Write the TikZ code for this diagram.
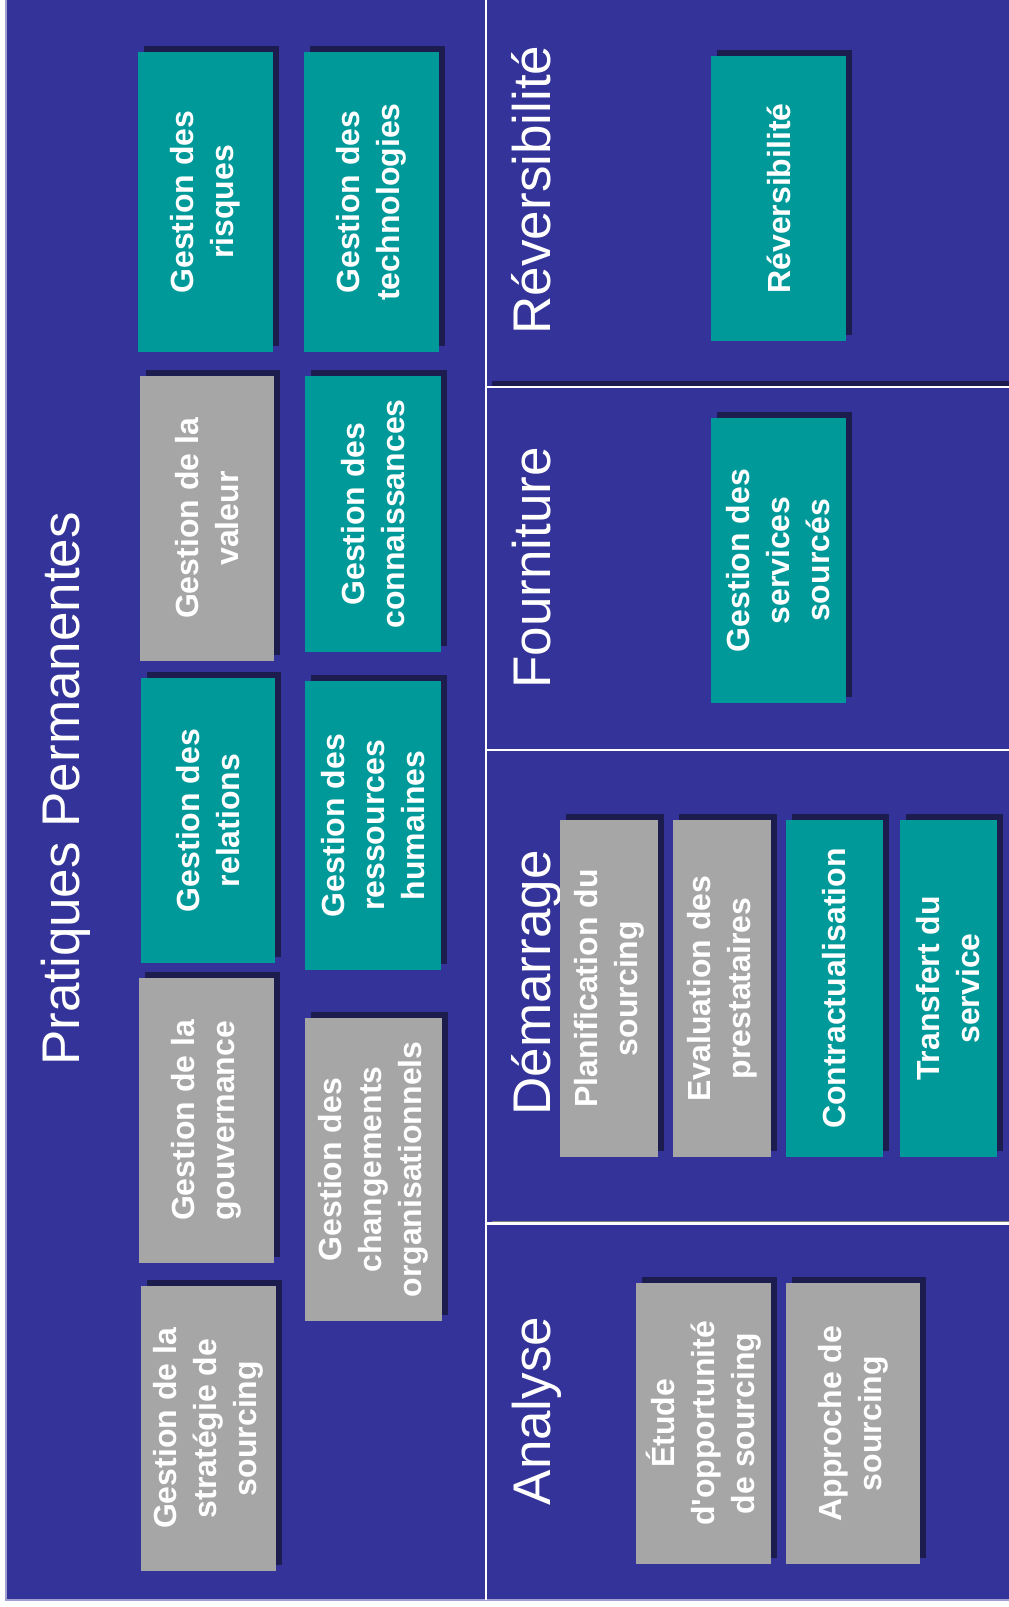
\documentclass[tikz,border=0pt]{standalone}
\usepackage{fontspec}
\setmainfont{Liberation Sans}[Ligatures=TeXOff]

\definecolor{panelblue}{RGB}{51,51,153}
\definecolor{boxteal}{RGB}{0,153,153}
\definecolor{boxgray}{RGB}{166,166,166}
\definecolor{shadowc}{RGB}{28,28,78}
\definecolor{edgec}{RGB}{160,160,210}

\tikzset{
  card/.style={draw=none, inner sep=0pt, text=white, align=center,
    font=\bfseries\fontsize{32}{40}\selectfont, rotate=90},
  tealcard/.style={card, fill=boxteal},
  graycard/.style={card, fill=boxgray},
  paneltitle/.style={text=white, inner sep=0pt,
    font=\fontsize{53}{60}\selectfont, rotate=90, anchor=base},
  divider/.style={draw=white, line width=2.5pt}
}

% #1 name, #2 left, #3 top, #4 right, #5 bottom (pixel-like units, y down),
% #6 style, #7 text; a dark shadow sits up and to the right of each card
\newcommand{\placecard}[7]{%
  \pgfmathsetmacro{\pcW}{#5-#3}%
  \pgfmathsetmacro{\pcH}{#4-#2}%
  \pgfmathsetmacro{\pcX}{(#2+#4)/2}%
  \pgfmathsetmacro{\pcY}{(#3+#5)/2}%
  \fill[shadowc] ({#2+6},{#3-6}) rectangle ({#4+6},{#5-6});
  \node[#6, minimum width=\pcW pt, minimum height=\pcH pt] (#1) at (\pcX,\pcY) {#7};
}

\begin{document}
\begin{tikzpicture}[x=1pt, y=-1pt]
  \useasboundingbox (0,0) rectangle (1009,1607);
  \fill[white] (0,0) rectangle (1009,1607);

  % blue field and its light edge
  \fill[panelblue] (6,-10) rectangle (1020,1600);
  \draw[edgec, line width=1.2pt] (6,-10) -- (6,1600) -- (1020,1600);

  % dividers between the phase panels
  \fill[shadowc] (492,381) rectangle (1020,385.5);
  \draw[divider] (486,-10) -- (486,1600);
  \draw[divider] (486,387) -- (1020,387);
  \draw[divider] (486,750) -- (1020,750);
  \draw[gray, line width=1pt] (492,1221) -- (1020,1221);
  \draw[divider] (486,1223.5) -- (1020,1223.5);

  % panel titles
  \node[paneltitle] (tpp)  at (79,789)   {Pratiques Permanentes};
  \node[paneltitle] (trev) at (550,190)  {Réversibilité};
  \node[paneltitle] (tfou) at (550,568)  {Fourniture};
  \node[paneltitle] (tdem) at (550,983)  {Démarrage};
  \node[paneltitle] (tana) at (550,1411) {Analyse};

  % permanent practices, first column
  \placecard{risques}{138}{52}{273}{352}{tealcard}{Gestion des\\risques}
  \placecard{valeur}{140}{376}{274}{661}{graycard}{Gestion de la\\valeur}
  \placecard{relations}{141}{678}{275}{963}{tealcard}{Gestion des\\relations}
  \placecard{gouvernance}{139}{978}{274}{1263}{graycard}{Gestion de la\\gouvernance}
  \placecard{strategie}{141}{1286}{276}{1571}{graycard}{Gestion de la\\stratégie de\\sourcing}

  % permanent practices, second column
  \placecard{technologies}{304}{52}{439}{352}{tealcard}{Gestion des\\technologies}
  \placecard{connaissances}{305}{376}{441}{652}{tealcard}{Gestion des\\connaissances}
  \placecard{rh}{305}{681}{441}{970}{tealcard}{Gestion des\\ressources\\humaines}
  \placecard{changements}{305}{1018}{442}{1321}{graycard}{Gestion des\\changements\\organisationnels}

  % phases
  \placecard{reversibilite}{711}{56}{846}{341}{tealcard}{Réversibilité}
  \placecard{services}{711}{418}{846}{703}{tealcard}{Gestion des\\services\\sourcés}
  \placecard{planification}{560}{820}{658}{1157}{graycard}{Planification du\\sourcing}
  \placecard{evaluation}{673}{820}{771}{1157}{graycard}{Evaluation des\\prestataires}
  \placecard{contrat}{786}{820}{883}{1157}{tealcard}{Contractualisation}
  \placecard{transfert}{900}{820}{997}{1157}{tealcard}{Transfert du\\service}
  \placecard{etude}{636}{1283}{771}{1564}{graycard}{Étude\\d'opportunité\\de sourcing}
  \placecard{approche}{786}{1283}{920}{1564}{graycard}{Approche de\\sourcing}
\end{tikzpicture}
\end{document}
